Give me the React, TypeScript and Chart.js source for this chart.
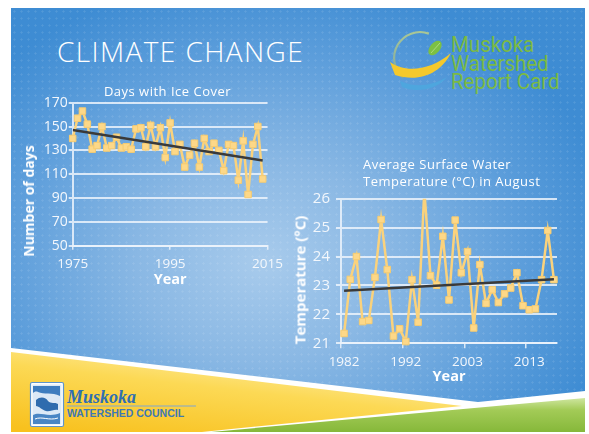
import React, { useEffect, useRef } from "react";
import { Chart, registerables } from "chart.js";
Chart.register(...registerables);

// ---------- Data ----------
const iceYears = [1975, 1976, 1977, 1978, 1979, 1980, 1981, 1982, 1983, 1984, 1985, 1986, 1987, 1988, 1989, 1990, 1991, 1992, 1993, 1994, 1995, 1996, 1997, 1998, 1999, 2000, 2001, 2002, 2003, 2004, 2005, 2006, 2007, 2008, 2009, 2010, 2011, 2012, 2013, 2014];
const iceDays = [140, 157, 163, 152, 131, 134, 150, 132, 134, 141, 132, 133, 131, 148, 149, 133, 151, 133, 149, 124, 153, 129, 135, 116, 126, 136, 116, 140, 129, 136, 130, 113, 135, 134, 105, 138, 93, 135, 150, 106];
const iceYTicks = [50, 70, 90, 110, 130, 150, 170];
const iceXTicks = [1975, 1995, 2015];

const tempYears = ["1982", "1983", "1984", "1985", "1986", "1987", "1988", "1989", "1990", "1991", "1992", "1994", "1995", "1996", "1997", "1998", "1999", "2000", "2001", "2002", "2003", "2004", "2005", "2006", "2007", "2008", "2009", "2010", "2011", "2012", "2013", "2014", "2015", "2016", "2017"];
const tempValues = [21.34, 23.21, 24.0, 21.75, 21.79, 23.28, 25.28, 23.55, 21.25, 21.5, 21.06, 23.2, 21.73, 26.3, 23.34, 23.01, 24.7, 22.5, 25.26, 23.44, 24.17, 21.53, 23.72, 22.38, 22.85, 22.41, 22.71, 22.91, 23.44, 22.3, 22.16, 22.19, 23.2, 24.9, 23.2];
const tempYTicks = [21, 22, 23, 24, 25, 26];
const tempXTickLabels = ["1982", "1992", "2003", "2013"];

// least-squares trendline (as Excel's linear trendline)
function linFit(xs: number[], ys: number[]) {
  const n = xs.length;
  const mx = xs.reduce((a, b) => a + b, 0) / n;
  const my = ys.reduce((a, b) => a + b, 0) / n;
  let sxy = 0, sxx = 0;
  for (let i = 0; i < n; i++) {
    sxy += (xs[i] - mx) * (ys[i] - my);
    sxx += (xs[i] - mx) * (xs[i] - mx);
  }
  const b = sxy / sxx;
  return (x: number) => my + b * (x - mx);
}

const GRID = "rgba(236,243,251,0.85)";
const TICK = "#F3F7FC";
const LINE = "#FAD27C";
const MARK = "#FDD888";
const TREND = "#3A3A3A";

export default function App() {
  const iceRef = useRef<HTMLCanvasElement>(null);
  const tempRef = useRef<HTMLCanvasElement>(null);

  useEffect(() => {
    Chart.defaults.font.family = "'Open Sans', sans-serif";
    const iceFit = linFit(iceYears, iceDays);
    const ice = new Chart(iceRef.current as HTMLCanvasElement, {
      type: "line",
      data: {
        datasets: [
          {
            label: "Trend",
            data: [
              { x: iceYears[0], y: iceFit(iceYears[0]) },
              { x: iceYears[iceYears.length - 1], y: iceFit(iceYears[iceYears.length - 1]) },
            ],
            borderColor: TREND,
            borderWidth: 2.5,
            pointRadius: 0,
            order: 0,
          },
          {
            label: "Days with Ice Cover",
            data: iceYears.map((x, i) => ({ x, y: iceDays[i] })),
            borderColor: LINE,
            borderWidth: 2.5,
            pointStyle: "rect",
            pointRadius: 4.6,
            pointBackgroundColor: MARK,
            pointBorderColor: "#F6CB70",
            pointBorderWidth: 1,
            order: 1,
            clip: false,
          },
        ],
      },
      options: {
        responsive: false,
        animation: false,
        events: [],
        layout: { padding: { top: 20.7, right: 17.3, left: 0, bottom: 0 } },
        plugins: { legend: { display: false }, tooltip: { enabled: false } },
        scales: {
          x: {
            type: "linear",
            min: 1975,
            max: 2015,
            afterBuildTicks: (s: any) => { s.ticks = iceXTicks.map((v) => ({ value: v })); },
            afterFit: (s: any) => { s.height = 46.3; },
            ticks: { callback: (v: any) => String(v), color: TICK, font: { size: 13.5 }, padding: 6, maxRotation: 0 },
            grid: { drawOnChartArea: false, drawTicks: true, tickLength: 4, color: GRID, lineWidth: 1.5 },
            border: { display: true, color: GRID, width: 2 },
            title: { display: true, text: "Year", color: "#FFFFFF", font: { size: 14.5, weight: "bold" }, padding: { top: 0, bottom: 3.3 } },
          },
          y: {
            min: 50,
            max: 170,
            afterBuildTicks: (s: any) => { s.ticks = iceYTicks.map((v) => ({ value: v })); },
            afterFit: (s: any) => { s.width = 58.7; },
            ticks: { color: TICK, font: { size: 14 }, padding: 1 },
            grid: { color: GRID, lineWidth: 2, tickLength: 4 },
            border: { display: true, color: GRID, width: 2 },
          },
        },
      },
    } as any);

    const idx = tempYears.map((_, i) => i);
    const tFit = linFit(idx, tempValues);
    const temp = new Chart(tempRef.current as HTMLCanvasElement, {
      type: "line",
      data: {
        labels: tempYears,
        datasets: [
          {
            label: "Trend",
            data: [
              { x: tempYears[0], y: tFit(0) },
              { x: tempYears[tempYears.length - 1], y: tFit(tempYears.length - 1) },
            ],
            borderColor: TREND,
            borderWidth: 2.5,
            pointRadius: 0,
            order: 0,
          },
          {
            label: "Average Surface Water Temperature (°C) in August",
            data: tempValues,
            borderColor: LINE,
            borderWidth: 2.5,
            pointStyle: "rect",
            pointRadius: 4.6,
            pointBackgroundColor: MARK,
            pointBorderColor: "#F6CB70",
            pointBorderWidth: 1,
            order: 1,
            clip: { left: 6, right: 6, top: 0, bottom: 6 },
          },
        ],
      },
      options: {
        responsive: false,
        animation: false,
        events: [],
        layout: { padding: { top: 18.7, right: 18, left: 0, bottom: 0 } },
        plugins: { legend: { display: false }, tooltip: { enabled: false } },
        scales: {
          x: {
            type: "category",
            offset: true,
            afterFit: (s: any) => { s.height = 46.7; },
            ticks: {
              autoSkip: false,
              maxRotation: 0,
              minRotation: 0,
              callback: (_v: any, i: number) => (tempXTickLabels.includes(tempYears[i]) ? tempYears[i] : ""),
              color: TICK,
              font: { size: 13.5 },
              padding: 6,
            },
            grid: {
              offset: true,
              drawOnChartArea: false,
              tickLength: 5,
              lineWidth: 1.5,
              color: (ctx: any) => (ctx.index % 10 === 0 && ctx.index < tempYears.length ? GRID : "rgba(0,0,0,0)"),
            },
            border: { display: true, color: GRID, width: 2 },
            title: { display: true, text: "Year", color: "#FFFFFF", font: { size: 14.5, weight: "bold" }, padding: { top: 0, bottom: 4.6 } },
          },
          y: {
            min: 21,
            max: 26,
            afterBuildTicks: (s: any) => { s.ticks = tempYTicks.map((v) => ({ value: v })); },
            afterFit: (s: any) => { s.width = 51; },
            ticks: { color: TICK, font: { size: 15 }, padding: 6 },
            grid: { color: GRID, lineWidth: 2, tickLength: 5 },
            border: { display: true, color: GRID, width: 2 },
          },
        },
      },
    } as any);

    return () => {
      ice.destroy();
      temp.destroy();
    };
  }, []);

  const abs = (l: number, t: number, extra: any = {}) => ({ position: "absolute" as const, left: l, top: t, ...extra });

  return (
    <div style={{ position: "absolute", left: 0, top: 0, width: 589, height: 434, overflow: "hidden", background: "#FFFFFF", fontFamily: "'Open Sans', sans-serif" }}>
      {/* slide background */}
      <div
        style={abs(11, 8, {
          width: 574,
          height: 424,
          backgroundImage:
            "radial-gradient(circle, rgba(255,255,255,0.10) 0.9px, rgba(255,255,255,0) 1.3px), radial-gradient(ellipse 62% 68% at 44% 60%, #A8CBEC 0%, #8AB8E4 35%, #5D9EDB 72%, #3E8CD3 100%)",
          backgroundSize: "7px 7px, 100% 100%",
        })}
      />
      {/* bottom bands */}
      <svg width={589} height={434} style={abs(0, 0)}>
        <defs>
          <linearGradient id="yel" x1="0.75" y1="0" x2="0.1" y2="1">
            <stop offset="0" stopColor="#FEF2BE" />
            <stop offset="0.45" stopColor="#FCD955" />
            <stop offset="1" stopColor="#F8C11E" />
          </linearGradient>
          <linearGradient id="grn" x1="0" y1="0" x2="0" y2="1">
            <stop offset="0" stopColor="#CFE6A0" />
            <stop offset="0.35" stopColor="#A3CB57" />
            <stop offset="1" stopColor="#86B83A" />
          </linearGradient>
          <linearGradient id="ring" x1="0" y1="0" x2="0" y2="1">
            <stop offset="0" stopColor="#A9C795" />
            <stop offset="1" stopColor="#7FA6A0" />
          </linearGradient>
        </defs>
        <polygon points="11,348 478,402 585,391 585,432 11,432" fill="#FFFFFF" />
        <polygon points="11,352 462,406 202,432 11,432" fill="url(#yel)" />
        <polygon points="211,432 585,398 585,432" fill="url(#grn)" />

        {/* top-right logo mark */}
        <path d="M 428.9 33.6 A 26 26 0 0 0 403.3 77.9" fill="none" stroke="url(#ring)" strokeWidth={2.2} />
        <ellipse cx={435} cy={48} rx={8.5} ry={5} transform="rotate(-50 435 48)" fill="#7CC043" />
        <path d="M 431 53 L 440 43" stroke="#B9E08A" strokeWidth={0.8} />
        <path d="M 390 62 C 405 73, 430 71, 451 53 C 441 73, 420 83, 395 75 Z" fill="#F5C92C" />
        <path d="M 400 81 C 415 88, 432 86, 447 77 C 437 90, 415 93, 402 87 Z" fill="#4EA6DE" />

        {/* bottom-left logo mark */}
        <rect x={30.5} y={382.5} width={33} height={44} fill="#FFFFFF" stroke="#5E95CC" strokeWidth={1.2} rx={1.5} />
        <rect x={32.5} y={384.5} width={29} height={40} fill="#DCE9F6" />
        <path d="M 33 386 L 60 386 L 60 396 C 52 392, 44 395, 38 392 C 36 391, 34 392, 33 393 Z" fill="#3E7DBF" />
        <path d="M 36 400 C 40 396, 46 397, 48 401 C 51 404, 55 402, 58 404 L 58 410 C 54 409, 50 412, 46 411 C 42 410, 39 406, 36 406 Z" fill="#2F6CAE" />
        <path d="M 33 415 C 40 411, 48 418, 60 413 L 60 424 L 33 424 Z" fill="#4A86C4" />
        <path d="M 35 419 C 42 416, 49 421, 58 418" stroke="#FFFFFF" strokeWidth={1} fill="none" />
        <line x1={67} y1={406} x2={196} y2={406} stroke="#7FA6D2" strokeWidth={1} />
      </svg>

      {/* slide title */}
      <div style={abs(57, 37, { color: "#FFFFFF", fontSize: 28, fontWeight: 300, lineHeight: 1, letterSpacing: 1.4, whiteSpace: "nowrap" })}>CLIMATE CHANGE</div>

      {/* report card logo text */}
      <div style={abs(451, 36, { color: "#7CBA44", fontFamily: "Roboto, sans-serif", fontSize: 22, lineHeight: "18.5px", whiteSpace: "nowrap", transform: "scaleX(0.93)", transformOrigin: "left top" })}>
        Muskoka<br />Watershed<br />Report Card
      </div>

      {/* council logo text */}
      <div style={abs(67, 388, { color: "#2F6FB3", fontFamily: "'Liberation Serif', serif", fontStyle: "italic", fontWeight: 700, fontSize: 18, lineHeight: 1, whiteSpace: "nowrap" })}>Muskoka</div>
      <div style={abs(67, 407.6, { color: "#3E78B5", fontFamily: "'Liberation Sans', sans-serif", fontWeight: 700, fontSize: 10.5, lineHeight: 1, whiteSpace: "nowrap" })}>WATERSHED COUNCIL</div>

      {/* ice chart */}
      <canvas ref={iceRef} width={275} height={210} style={abs(14, 82, { width: 275, height: 210 })} />
      <div style={abs(60, 85.1, { width: 215, textAlign: "center", color: "#FFFFFF", fontSize: 13, lineHeight: 1, letterSpacing: 0.5, whiteSpace: "nowrap" })}>Days with Ice Cover</div>
      <div style={abs(29, 201, { color: "#FFFFFF", fontSize: 14, fontWeight: 700, lineHeight: 1, whiteSpace: "nowrap", transform: "translate(-50%, -50%) rotate(-90deg)" })}>Number of days</div>

      {/* temperature chart */}
      <canvas ref={tempRef} width={285} height={210} style={abs(290, 180, { width: 285, height: 210 })} />
      <div style={abs(363, 155.9, { color: "#FFFFFF", fontSize: 13, lineHeight: "16.7px", letterSpacing: 0.5, whiteSpace: "nowrap" })}>
        Average Surface Water<br />Temperature (°C) in August
      </div>
      <div style={abs(300, 280, { color: "#FFFFFF", fontSize: 15, fontWeight: 700, lineHeight: 1, whiteSpace: "nowrap", transform: "translate(-50%, -50%) rotate(-90deg)" })}>Temperature (°C)</div>
    </div>
  );
}
